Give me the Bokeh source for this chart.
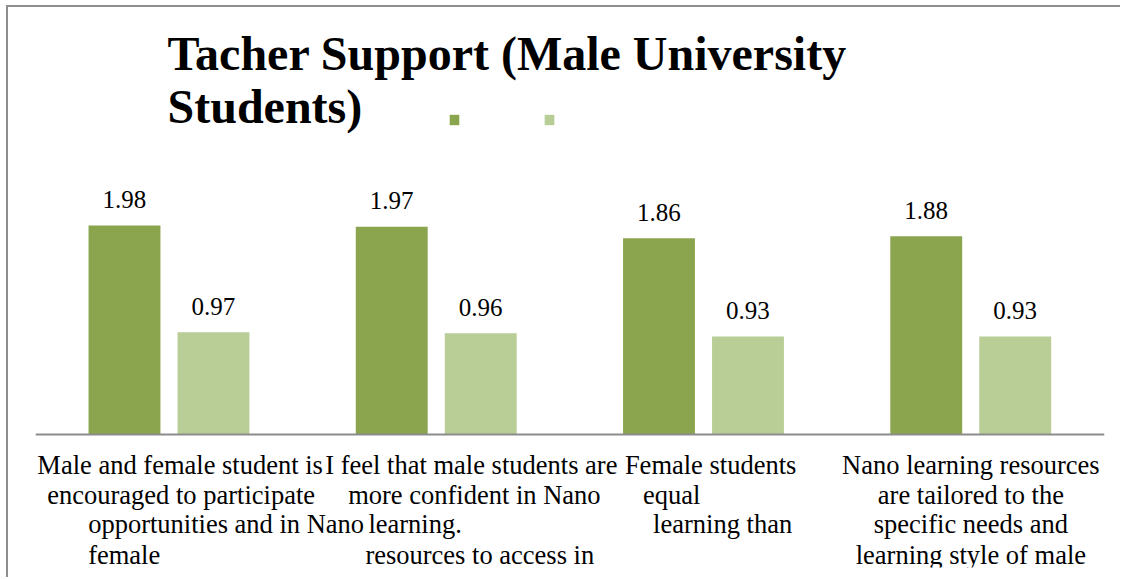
from bokeh.plotting import figure
from bokeh.models import ColumnDataSource, FactorRange, Range1d, Span, Label, Legend, LegendItem
from bokeh.transform import dodge
from bokeh.core.properties import value
from bokeh.embed import file_html
from bokeh.resources import INLINE

# ---------------- data ----------------
title_text = "Tacher Support (Male University\nStudents)"

label_lines = [
    ["Male and female student is", "encouraged to participate", "opportunities and in Nano", "female"],
    ["I feel that male students are", "more confident in Nano", "learning.", "resources to access in"],
    ["Female students", "equal", "learning than"],
    ["Nano learning resources", "are tailored to the", "specific needs and", "learning style of male"],
]
categories = [" ".join(lines) for lines in label_lines]

series_dark = [1.98, 1.97, 1.86, 1.88]
series_light = [0.97, 0.96, 0.93, 0.93]

# ---------------- style / layout ----------------
FONT = "Liberation Serif"
DARK = "#8ba54f"
LIGHT = "#b9cd96"
GRAY = "#8c8c8c"
PX_PER_UNIT = 105.5

# label line layout (screen px): per category, per line (align, x offset)
line_layout = [
    [("center", 11), ("center", 12), ("left", -81), ("left", -81)],
    [("center", 35), ("center", 38), ("left", -68), ("left", -71)],
    [("center", 7), ("center", -32), ("center", 19)],
    [("center", 0), ("center", 0), ("center", 0), ("center", 0)],
]
line_baselines = [30, 60, 89, 120]

p = figure(
    width=1114, height=572,
    x_range=FactorRange(*categories, range_padding=0),
    y_range=Range1d(-133 / PX_PER_UNIT, 424 / PX_PER_UNIT),
    x_axis_location=None, y_axis_location=None,
    toolbar_location=None, output_backend="svg",
    min_border_left=27, min_border_right=18, min_border_top=3, min_border_bottom=12,
    outline_line_color=None,
    styles={"border-top": "2px solid #8e8e8e", "border-left": "2px solid #8e8e8e",
            "border-right": "none", "border-bottom": "none", "overflow": "hidden",
            "margin-left": "6px", "margin-top": "5px"},
)
p.grid.visible = False

src = ColumnDataSource(dict(
    cat=categories,
    dark=series_dark,
    light=series_light,
    dark_txt=[f"{v:.2f}" for v in series_dark],
    light_txt=[f"{v:.2f}" for v in series_light],
))

r1 = p.vbar(x=dodge("cat", -0.167, range=p.x_range), top="dark", bottom=0, width=0.269,
            source=src, fill_color=DARK, line_color=None)
r2 = p.vbar(x=dodge("cat", 0.166, range=p.x_range), top="light", bottom=0, width=0.269,
            source=src, fill_color=LIGHT, line_color=None)

common = dict(text_font=value(FONT), text_font_size="25px", text_color="#000000",
              text_align="center", text_baseline="alphabetic")
p.text(x=dodge("cat", -0.167, range=p.x_range), y="dark", text="dark_txt", source=src,
       y_offset=-26, **common)
p.text(x=dodge("cat", 0.166, range=p.x_range), y="light", text="light_txt", source=src,
       y_offset=-26, **common)

# baseline (category axis line)
p.add_layout(Span(location=0, dimension="width", line_color=GRAY, line_width=2))

# category labels (multi-line, quirky alignment as in reference)
for align in ("center", "left"):
    xs, ts, xo, yo = [], [], [], []
    for cat, lines, lay in zip(categories, label_lines, line_layout):
        for i, (txt, (al, off)) in enumerate(zip(lines, lay)):
            if al == align:
                xs.append(cat); ts.append(txt); xo.append(off); yo.append(line_baselines[i])
    p.text(x=xs, y=[0] * len(xs), text=ts, x_offset=xo, y_offset=yo,
           text_font=value(FONT), text_font_size="26.5px", text_color="#000000",
           text_align=align, text_baseline="alphabetic")

# title
p.add_layout(Label(x=132, y=541, x_units="screen", y_units="screen", text=title_text,
                   text_font=FONT, text_font_size="48px", text_font_style="bold",
                   text_color="#000000", text_baseline="top", text_line_height=1.0))

# legend (markers only, no text)
legend = Legend(items=[LegendItem(label=" ", renderers=[r1]), LegendItem(label=" ", renderers=[r2])],
                orientation="horizontal", location=(413, 441),
                glyph_width=12, glyph_height=13, label_width=83, label_height=13,
                label_standoff=0, spacing=0, padding=0, margin=0,
                border_line_color=None, background_fill_alpha=0,
                label_text_font_size="1px")
p.add_layout(legend)

open("out.html", "w").write(file_html(p, INLINE))
